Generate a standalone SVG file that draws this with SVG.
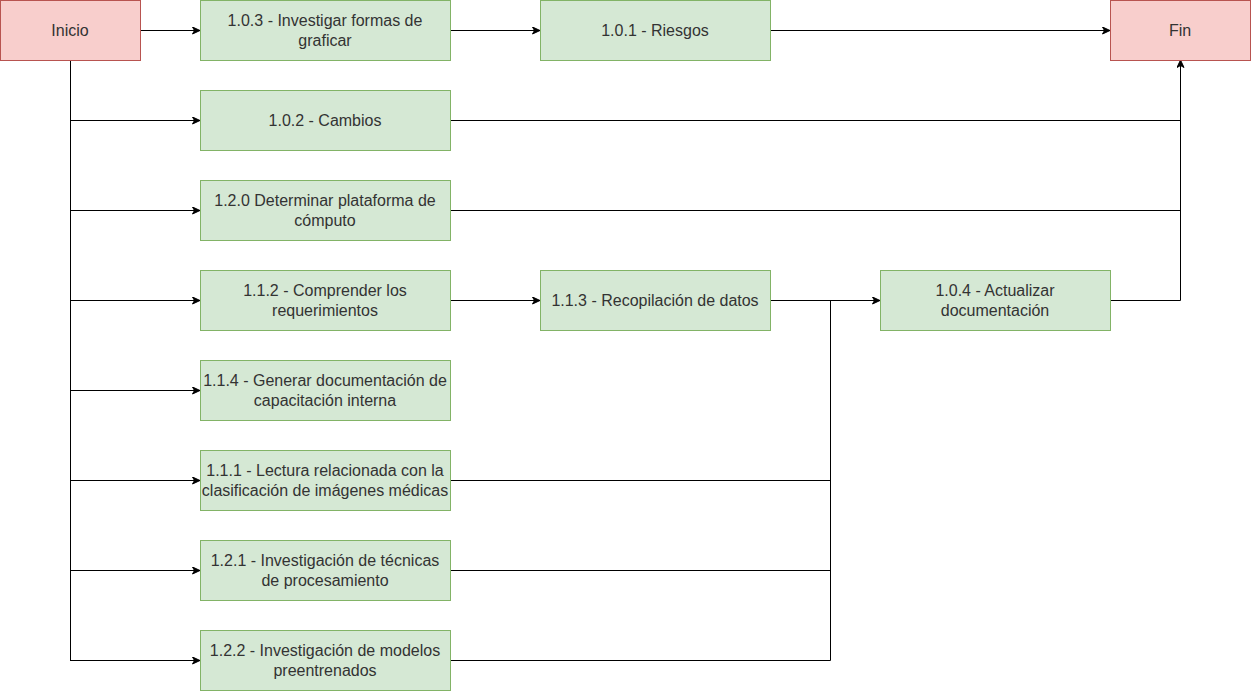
<svg xmlns="http://www.w3.org/2000/svg" width="1251" height="692" viewBox="0 0 1251 692">
<style>
.red{fill:#f8cecc;stroke:#b85450;stroke-width:1}
.green{fill:#d5e8d4;stroke:#82b366;stroke-width:1}
text{font-family:"Liberation Sans",Arial,sans-serif;font-size:16px;fill:#333333;text-anchor:middle}
.c{fill:none;stroke:#000;stroke-width:1}
.a{marker-end:url(#arr)}
</style>
<defs>
<marker id="arr" markerUnits="userSpaceOnUse" markerWidth="10" markerHeight="10" refX="8" refY="4" orient="auto">
<path d="M0.5,0.5 L8,4 L0.5,7.5 L2.5,4 Z" fill="#000" stroke="#000" stroke-width="1"/>
</marker>
</defs>
<rect width="1251" height="692" fill="#fff"/>
<g id="connectors">
<path class="c a" d="M140,30.5 H200"/>
<path class="c a" d="M450,30.5 H540"/>
<path class="c a" d="M770,30.5 H1110"/>
<path class="c" d="M70.5,60 V660.5"/>
<path class="c a" d="M70,120.5 H200"/>
<path class="c a" d="M70,210.5 H200"/>
<path class="c a" d="M70,300.5 H200"/>
<path class="c a" d="M70,390.5 H200"/>
<path class="c a" d="M70,480.5 H200"/>
<path class="c a" d="M70,570.5 H200"/>
<path class="c a" d="M70,660.5 H200"/>
<path class="c a" d="M450,120.5 H1180.5 V60"/>
<path class="c" d="M450,210.5 H1180.5"/>
<path class="c" d="M1110,300.5 H1180.5 V120"/>
<path class="c a" d="M450,300.5 H540"/>
<path class="c a" d="M770,300.5 H880"/>
<path class="c" d="M450,480.5 H830.5 V300"/>
<path class="c" d="M450,570.5 H830.5"/>
<path class="c" d="M450,660.5 H830.5 V480"/>
</g>
<g id="inicio"><rect class="red" x="0.5" y="0.5" width="140" height="60"/><text x="70" y="36">Inicio</text></g>
<g id="fin"><rect class="red" x="1110.5" y="0.5" width="140" height="60"/><text x="1180" y="36">Fin</text></g>
<g id="n103"><rect class="green" x="200.5" y="0.5" width="250" height="60"/><text x="325" y="25.5">1.0.3 - Investigar formas de</text><text x="325" y="45.5">graficar</text></g>
<g id="n101"><rect class="green" x="540.5" y="0.5" width="230" height="60"/><text x="655" y="36">1.0.1 - Riesgos</text></g>
<g id="n102"><rect class="green" x="200.5" y="90.5" width="250" height="60"/><text x="325" y="126">1.0.2 - Cambios</text></g>
<g id="n120"><rect class="green" x="200.5" y="180.5" width="250" height="60"/><text x="325" y="205.5">1.2.0 Determinar plataforma de</text><text x="325" y="225.5">cómputo</text></g>
<g id="n112"><rect class="green" x="200.5" y="270.5" width="250" height="60"/><text x="325" y="295.5">1.1.2 - Comprender los</text><text x="325" y="315.5">requerimientos</text></g>
<g id="n113"><rect class="green" x="540.5" y="270.5" width="230" height="60"/><text x="655" y="306">1.1.3 - Recopilación de datos</text></g>
<g id="n104"><rect class="green" x="880.5" y="270.5" width="230" height="60"/><text x="995" y="295.5">1.0.4 - Actualizar</text><text x="995" y="315.5">documentación</text></g>
<g id="n114"><rect class="green" x="200.5" y="360.5" width="250" height="60"/><text x="325" y="385.5">1.1.4 - Generar documentación de</text><text x="325" y="405.5">capacitación interna</text></g>
<g id="n111"><rect class="green" x="200.5" y="450.5" width="250" height="60"/><text x="325" y="475.5">1.1.1 - Lectura relacionada con la</text><text x="325" y="495.5">clasificación de imágenes médicas</text></g>
<g id="n121"><rect class="green" x="200.5" y="540.5" width="250" height="60"/><text x="325" y="565.5">1.2.1 - Investigación de técnicas</text><text x="325" y="585.5">de procesamiento</text></g>
<g id="n122"><rect class="green" x="200.5" y="630.5" width="250" height="60"/><text x="325" y="655.5">1.2.2 - Investigación de modelos</text><text x="325" y="675.5">preentrenados</text></g>
</svg>
